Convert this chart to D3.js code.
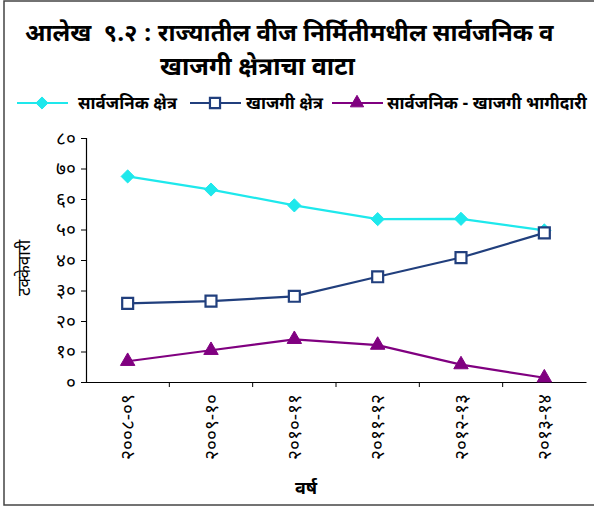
<!DOCTYPE html>
<html>
<head>
<meta charset="utf-8">
<script src="https://cdn.jsdelivr.net/npm/d3@7/dist/d3.min.js"></script>
<style>
  body { margin: 0; background: #fff; }
  svg { font-family: "Noto Sans Devanagari", "Noto Sans", sans-serif; }
</style>
</head>
<body>
<svg width="594" height="510"></svg>
<script>
// data
var years    = ["२००८-०९", "२००९-१०", "२०१०-११", "२०११-१२", "२०१२-१३", "२०१३-१४"];
var publicS  = [67.4, 63.1, 57.9, 53.4, 53.5, 49.7];
var privateS = [25.8, 26.5, 28.1, 34.5, 40.8, 48.9];
var jointS   = [6.8, 10.4, 14.0, 12.1, 5.7, 1.4];
var yTicks   = [0, 10, 20, 30, 40, 50, 60, 70, 80];
var seriesNames = ["सार्वजनिक क्षेत्र", "खाजगी क्षेत्र", "सार्वजनिक - खाजगी भागीदारी"];

var devDigits = "०१२३४५६७८९";
var toDev = function(n){ return String(n).replace(/[0-9]/g, function(c){ return devDigits[+c]; }); };

var svg = d3.select("svg");

// frame
svg.append("rect").attr("x", 4).attr("y", 1).attr("width", 600).attr("height", 504)
  .style("fill", "none").style("stroke", "#444").style("stroke-width", 1.5);

// title
svg.append("text").attr("x", 25).attr("y", 41).text("आलेख  ९.२ : राज्यातील वीज निर्मितीमधील सार्वजनिक व")
  .style("font-size", "24px").style("font-weight", "bold").style("white-space", "pre");
svg.append("text").attr("x", 160).attr("y", 75).text("खाजगी क्षेत्राचा वाटा")
  .style("font-size", "25px").style("font-weight", "bold");

var x = d3.scaleBand().domain(years).range([86, 586]).padding(0);
var y = d3.scaleLinear().domain([0, 80]).range([382, 138]);

// y axis
var yAxis = svg.append("g").attr("transform", "translate(86,0)")
  .call(d3.axisLeft(y).tickValues(yTicks).tickSize(5).tickFormat(toDev));
yAxis.selectAll("text").style("font-size", "19px").attr("dx", "-2");

// x axis with ticks at band edges
var xAxis = svg.append("g").attr("transform", "translate(0,382)")
  .call(d3.axisBottom(x).tickSize(0).tickSizeOuter(0));
xAxis.selectAll(".tick text")
  .attr("transform", "rotate(-90)")
  .attr("x", -12).attr("y", 0).attr("dy", "0.35em")
  .style("text-anchor", "end").style("font-size", "19px");
xAxis.selectAll(".edge").data(years.slice(1)).enter().append("line")
  .attr("x1", function(d){ return x(d); }).attr("x2", function(d){ return x(d); })
  .attr("y1", 0).attr("y2", 5).style("stroke", "#000");
svg.selectAll(".domain").style("stroke", "#000").style("stroke-width", 1.2);

// axis titles
svg.append("text").attr("transform", "translate(30,268) rotate(-90)")
  .style("text-anchor", "middle").style("font-size", "17px").text("टक्केवारी");
svg.append("text").attr("x", 306).attr("y", 494)
  .style("text-anchor", "middle").style("font-size", "18px").style("font-weight", "bold").text("वर्ष");

var cx = function(d, i){ return x(years[i]) + x.bandwidth() / 2; };
var line = d3.line().x(cx).y(function(d){ return y(d); });

var series = [
  { values: publicS,  color: "#1ee8ec", symbol: d3.symbolDiamond2, size: 110, fill: "#1ee8ec" },
  { values: privateS, color: "#213f7d", symbol: d3.symbolSquare,   size: 120, fill: "#fff" },
  { values: jointS,   color: "#800080", symbol: d3.symbolTriangle, size: 90,  fill: "#800080" }
];

series.forEach(function(s){
  svg.append("path").datum(s.values).attr("d", line)
    .style("fill", "none").style("stroke", s.color).style("stroke-width", 2.2);
});
series.forEach(function(s){
  svg.selectAll(null).data(s.values).enter().append("path")
    .attr("transform", function(d, i){ return "translate(" + cx(d, i) + "," + y(d) + ")"; })
    .attr("d", d3.symbol().type(s.symbol).size(s.size))
    .style("fill", s.fill).style("stroke", s.color).style("stroke-width", s.fill === "#fff" ? 2.2 : 1);
});

// legend
var legX = [17, 190, 332];
var legText = [61, 56, 55];
series.forEach(function(s, i){
  var g = svg.append("g").attr("transform", "translate(" + legX[i] + ",103)");
  g.append("line").attr("x1", 0).attr("x2", 51).style("stroke", s.color).style("stroke-width", 2.2);
  g.append("path").attr("transform", "translate(25,0)")
    .attr("d", d3.symbol().type(s.symbol).size(s.size * 0.85))
    .style("fill", s.fill).style("stroke", s.color).style("stroke-width", s.fill === "#fff" ? 2.2 : 1);
  g.append("text").attr("x", legText[i]).attr("y", 0).attr("dy", "0.35em")
    .style("font-size", "17px").style("font-weight", "bold").text(seriesNames[i]);
});
</script>
</body>
</html>
